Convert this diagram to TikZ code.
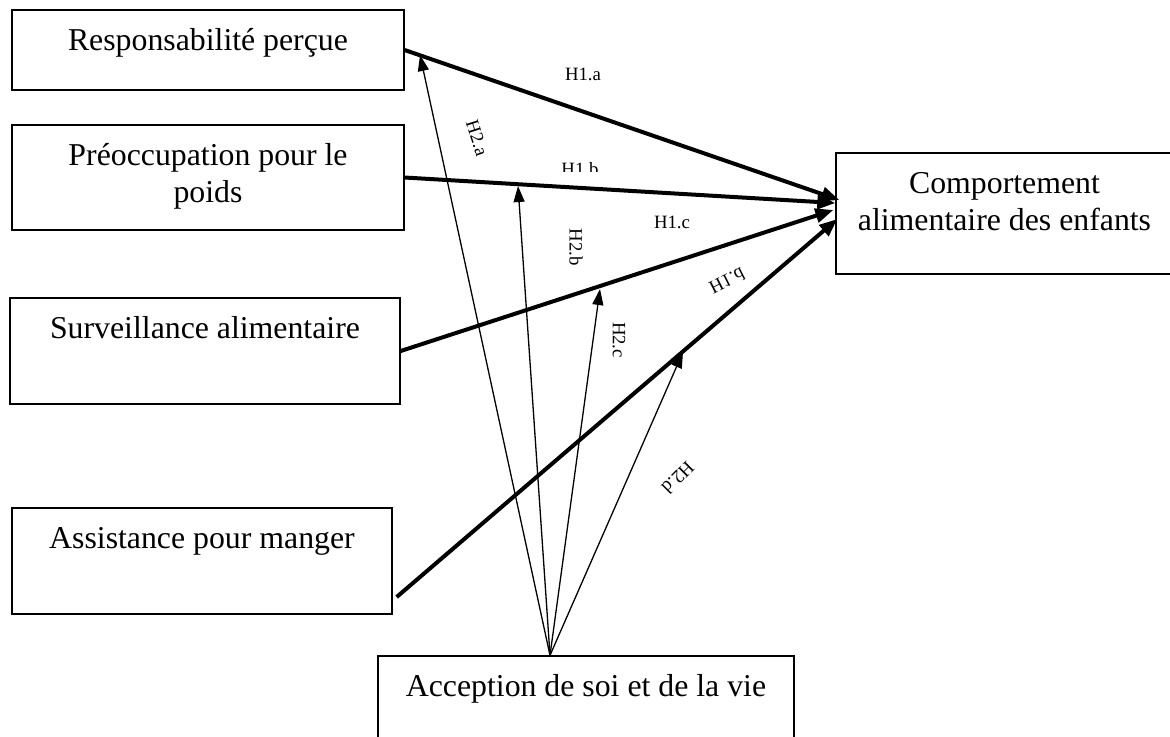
\documentclass[tikz,border=0pt]{standalone}
\usepackage{fontspec}
\setmainfont{Liberation Serif}
\usetikzlibrary{arrows.meta,calc}
\newcommand{\bxt}[3]{\parbox[c][#2][t]{#1}{\centering\rule{0pt}{20pt}#3\par}}
\begin{document}
\begin{tikzpicture}[x=0.5pt,y=-0.5pt,
  box/.style={draw, line width=0.65pt, inner sep=0pt, font=\fontsize{15.9pt}{18.5pt}\selectfont},
  lab/.style={font=\fontsize{9.4pt}{11pt}\selectfont, inner sep=0pt},
  mainarrow/.style={line width=2pt, -{Triangle[length=9pt,width=7pt]}},
  modarrow/.style={line width=0.65pt, -{Triangle[length=8pt,width=5.5pt]}}
]
\useasboundingbox (0,0) rectangle (1170,736);
% boxes
\node[box] (b1) at (208,50) {\bxt{196pt}{40pt}{Responsabilité perçue}};
\node[box] (b2) at (208,177.5) {\bxt{196pt}{52.5pt}{Préoccupation pour le\\poids}};
\node[box] (b3) at (205,351) {\bxt{195pt}{53pt}{Surveillance alimentaire}};
\node[box] (b4) at (202,561) {\bxt{190pt}{53pt}{Assistance pour manger}};
\node[box] (out) at (1004.5,213.5) {\bxt{168.5pt}{60.5pt}{Comportement\\alimentaire des enfants}};
\node[box] (acc) at (586,709) {\bxt{208pt}{53pt}{Acception de soi et de la vie}};
% main effects
\draw[mainarrow] (b1.east) -- ($(out.west)+(4,-13.5)$);
\draw[mainarrow] (b2.east) -- ($(out.west)+(0,-10.5)$);
\draw[mainarrow] (b3.east) -- ($(out.west)+(-2,-3.5)$);
\draw[mainarrow] ($(b4.east)+(4,36)$) -- ($(out.west)+(2,5.5)$);
% moderation arrows
\coordinate (src) at ($(acc.north)+(-36,0)$);
\coordinate (m1) at (420,55);
\coordinate (m2) at (518,186);
\coordinate (m3) at (600,289);
\coordinate (m4) at (683,352);
\draw[modarrow] (src) -- (m1);
\draw[modarrow] (src) -- (m2);
\draw[modarrow] (src) -- (m3);
\draw[modarrow] (src) -- (m4);
% labels
\node[lab, anchor=base] (l1a) at (583,80) {H1.a};
\begin{scope}
\clip (540,140) rectangle (630,171);
\node[lab, anchor=base] (l1b) at (580,175) {H1.b};
\end{scope}
\node[lab, anchor=base] (l1c) at (672,228) {H1.c};
\node[lab, rotate=27, yscale=-1] (l1d) at (727,281) {H1.d};
\node[lab, rotate=-72] (l2a) at (477,138) {H2.a};
\node[lab, rotate=-90] (l2b) at (576,247) {H2.b};
\node[lab, rotate=-90] (l2c) at (619,340) {H2.c};
\node[lab, rotate=225] (l2d) at (678,478) {H2.d};
\end{tikzpicture}
\end{document}
